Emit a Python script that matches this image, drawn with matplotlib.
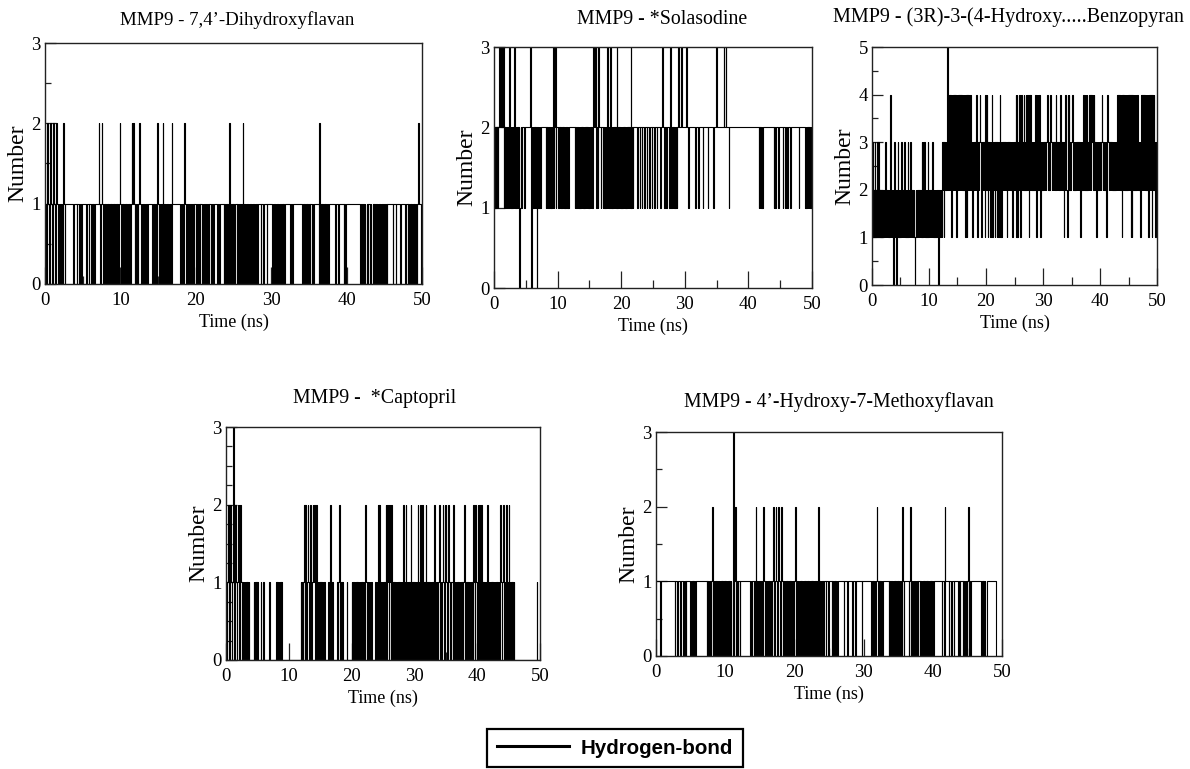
import numpy as np
import matplotlib
matplotlib.use("Agg")
import matplotlib.pyplot as plt
from matplotlib.lines import Line2D
from matplotlib.ticker import MultipleLocator

# Hydrogen-bond counts sampled every 0.1 ns over 50 ns.
# Each string holds 5 ns; each space-separated group is 1 ns (10 frames).
DT = 0.1

DIHYDROXYFLAVAN = [
    "1012101210 1210121010 1010210111 1111111011 1101101101",
    "1111001101 1010101111 1210121010 1010101010 1010101012",
    "1010101010 1010121210 1010121010 1010101111 1101010102",
    "1010102010 1010101021 1111111110 1010121011 0101101011",
    "0110101101 0101101011 0110111101 1011111010 1010201010",
    "1011010110 1020101010 1010101010 1011110110 1111011111",
    "1010101010 1010101011 1111101101 1111111111 1010101010",
    "1011010111 1110201010 1010101111 1111101110 1111110101",
    "1111111111 1111111101 1010100101 1010010101 0101010101",
    "1010111111 1011101111 1011111101 1010101010 1010121110",
]

SOLASODINE = [
    "1212121232 3232312121 1212312121 2131212121 0121222122",
    "2222222302 1212121021 2121222222 2121211212 1213123122",
    "2121211212 1212112122 2222222121 1212121212 1212121212",
    "1212123232 3121322212 2121212131 2123121212 1213121212",
    "1212121212 1212131212 2222212221 2212221222 1222122212",
    "2212221222 2122322212 2122212321 2121212123 3222322222",
    "2232212222 2222221222 2122222212 2222221222 2222212223",
    "2222222222 2322322221 2222222222 2222222222 2222222222",
    "2222222222 2222221212 1212222222 2222222222 1212222122",
    "2222122212 2122221222 2222222221 2222222221 2121212121",
]

BENZOPYRAN = [
    "1312131213 1312121212 1213121212 1241212013 1201231212",
    "1312121312 1213121312 1212101212 1212121313 2131212131",
    "2121213121 2121210121 1213231323 2454242421 4242424214",
    "2424242424 2424141424 4243231323 2324313234 3213232314",
    "2431323132 4132313231 3132413132 3232321323 2323231323",
    "3241413242 1242324232 4242314242 3232324214 2424213232",
    "3232323432 3234323232 3243232323 4232321324 3214242323",
    "3432323232 3232313232 3424242423 2424243424 3231323232",
    "3234323232 3134323232 3232323232 4242424214 2424242424",
    "2424141424 2424243232 3142424242 4242414242 4142423132",
]

CAPTOPRIL = [
    "1012101210 1310121012 1012101010 1010101000 0000101010",
    "1000010001 0000000001 0000000000 1010101010 0000000000",
    "0000000000 0000000001 0101202101 2101210121 2101201010",
    "1010101000 0001002001 0000000101 2101010000 0010000000",
    "1001010101 0101010101 0121010101 0100000010 1020201010",
    "1010201210 2102101010 1010101010 1020102010 1010201010",
    "1010120102 1020101020 1010101010 1020101012 1010121021",
    "2101210101 1020101010 1010101012 1010101010 1010210210",
    "1202102010 1010102010 1010101010 1010101210 1210102010",
    "2010101010 0000000000 0000000000 0000000000 0000010000",
]

METHOXYFLAVAN = [
    "1111110111 1111111111 1111111011 1011101110 1010111110",
    "1010101011 1111111111 1110101010 1201010101 1010101010",
    "1010101010 0301210101 1011111111 1111110101 1010210101",
    "1010121010 1010101012 1012101210 1210101010 1010101010",
    "1210101010 1010101010 1010101010 1010201010 1101101110",
    "1111010101 0101111111 1011110111 1110111101 1111111011",
    "1111111111 1010101012 1010101011 1111110101 1010101010",
    "1010102101 1111101201 0101010101 1010101010 1010101010",
    "1011111111 1110110211 1110111011 0111111010 1110101010",
    "1201011111 1111111111 0101010011 1111111111 1000000000",
]

TITLES = [
    "MMP9 - 7,4\u2019-Dihydroxyflavan",
    "MMP9 - *Solasodine",
    "MMP9 - (3R)-3-(4-Hydroxy.....Benzopyran",
    "MMP9 -  *Captopril",
    "MMP9 - 4\u2019-Hydroxy-7-Methoxyflavan",
]
SERIES = [DIHYDROXYFLAVAN, SOLASODINE, BENZOPYRAN, CAPTOPRIL, METHOXYFLAVAN]
Y_MAX = [3, 3, 5, 3, 3]
Y_MINOR = [0.5, None, 0.5, 0.25, 0.5]
X_TICKS = [0, 10, 20, 30, 40, 50]
LEGEND_LABEL = "Hydrogen-bond"


def decode(rows):
    digits = "".join(rows).replace(" ", "")
    return np.array([int(c) for c in digits], dtype=float)


W, H = 1190, 769
fig = plt.figure(figsize=(W / 100, H / 100), dpi=100)
plt.rcParams["font.family"] = ["Liberation Serif", "DejaVu Serif"]

# axes boxes in pixels: left, top, right, bottom
BOXES = [
    (45, 43, 422, 284),
    (494, 47, 812, 288),
    (872, 47, 1157, 285),
    (226, 427, 540, 660),
    (656, 432, 1002, 656),
]
TITLE_POS = [(237, 20, 13.6), (662, 20, 14.3), (1008, 17, 14.5),
             (375, 398, 14.3), (839, 402, 14.2)]

for k in range(5):
    l, t, r, b = BOXES[k]
    ax = fig.add_axes([l / W, 1 - b / H, (r - l) / W, (b - t) / H])
    values = decode(SERIES[k])
    times = np.arange(len(values) + 1) * DT
    ax.step(times, np.append(values, values[-1]), where="post",
            color="black", lw=0.8)
    ax.set_xlim(0, 50)
    ax.set_ylim(0, Y_MAX[k])
    ax.set_xticks(X_TICKS)
    ax.xaxis.set_minor_locator(MultipleLocator(5))
    ax.yaxis.set_major_locator(MultipleLocator(1))
    if Y_MINOR[k]:
        ax.yaxis.set_minor_locator(MultipleLocator(Y_MINOR[k]))
    ax.tick_params(which="both", direction="in", top=False, right=False,
                   labelsize=13.5, width=0.9, color="#222222")
    ax.tick_params(axis="x", which="major", length=12, pad=6)
    ax.tick_params(axis="x", which="minor", length=6)
    ax.tick_params(axis="y", which="major", length=8, pad=3)
    ax.tick_params(axis="y", which="minor", length=4.5)
    for sp in ax.spines.values():
        sp.set_linewidth(1.0)
        sp.set_color("#222222")
    ax.set_xlabel("Time (ns)", fontsize=13, labelpad=3)
    ax.set_ylabel("Number", fontsize=17, labelpad=2)
    tx, ty, ts = TITLE_POS[k]
    fig.text(tx / W, 1 - ty / H, TITLES[k], ha="center", va="center",
             fontsize=ts)

leg = fig.legend([Line2D([], [], color="black", lw=2.2)], [LEGEND_LABEL],
                 loc="center", bbox_to_anchor=(615 / W, 1 - 748 / H),
                 prop={"family": "Liberation Sans", "weight": "bold", "size": 14.8},
                 handlelength=3.5, handletextpad=0.6, borderpad=0.45,
                 fancybox=False, framealpha=1.0)
leg.get_frame().set_edgecolor("black")
leg.get_frame().set_linewidth(1.6)

fig.savefig("out.png", dpi=100)
